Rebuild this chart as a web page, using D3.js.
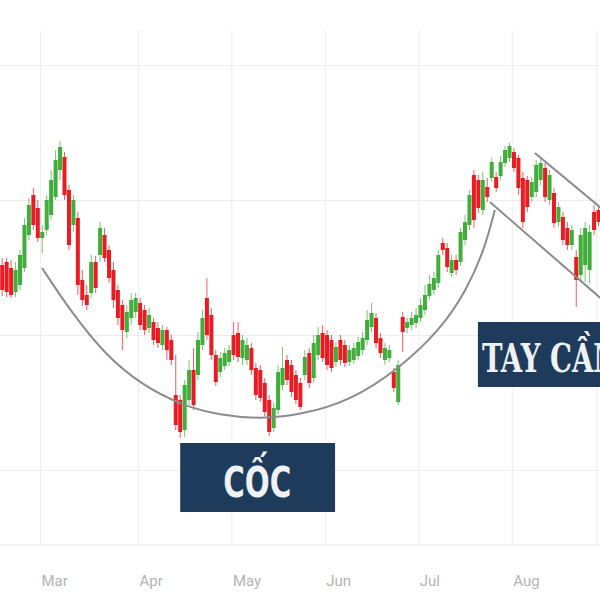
<!DOCTYPE html>
<html><head><meta charset="utf-8">
<script src="https://cdn.jsdelivr.net/npm/d3@7"></script>
<style>body{margin:0;background:#fff}svg{display:block}</style>
</head><body><svg id="c" width="600" height="600"></svg>
<script>
// Daily OHLC (trading-day index 0..134)
const openP = [33.5,33.8,33.2,30.8,31.5,33.2,36.5,40.5,39.2,36.2,
37.0,38.5,40.3,43.0,44.3,41.0,37.5,38.2,32.0,30.5,
30.7,33.8,34.5,36.5,35.0,33.0,31.0,29.5,26.8,28.2,
28.8,29.7,29.0,27.2,27.8,27.2,25.5,27.0,26.0,20.5,
20.0,17.0,20.0,23.0,22.5,25.5,30.2,28.5,24.5,22.8,
23.4,23.8,26.5,26.7,24.2,24.0,25.2,23.2,23.0,21.7,
20.0,17.2,19.0,21.5,24.0,23.5,22.5,21.7,22.5,24.7,
22.2,24.5,26.7,26.5,26.0,23.8,26.0,25.5,23.8,24.0,
24.4,25.0,26.0,27.3,28.2,26.2,24.0,24.2,22.8,19.8,
28.3,27.2,27.5,27.7,28.2,29.0,30.4,31.0,31.7,35.7,
35.2,32.7,34.0,33.8,36.0,37.5,42.5,42.0,39.0,41.3,
42.2,42.3,42.4,43.7,44.2,44.8,44.2,42.2,42.0,40.3,
40.8,42.0,43.2,40.0,40.7,37.8,38.3,37.2,35.5,34.3,
32.5,33.5,33.0,38.8,39.0];
const highP = [34.2,34.2,34.0,33.8,35.0,38.2,40.2,41.2,40.0,37.5,
40.5,43.0,45.0,45.9,44.8,41.5,40.5,38.8,33.0,31.5,
34.5,34.4,37.8,37.2,35.5,33.8,31.5,30.0,29.5,30.7,
30.7,30.2,29.5,29.2,28.2,27.8,27.5,27.3,26.5,24.5,
20.5,22.0,24.0,25.2,26.8,29.0,32.2,29.2,25.0,24.8,
25.2,25.5,27.8,27.8,26.5,26.2,25.7,23.7,23.5,22.2,
20.5,19.7,23.5,25.3,24.5,24.0,23.0,22.2,25.0,25.2,
26.5,27.3,27.5,27.0,26.5,25.8,26.5,26.0,25.5,25.7,
26.3,26.8,29.0,29.7,28.7,26.7,25.7,25.5,23.2,24.0,
28.8,28.2,28.8,29.2,30.2,31.5,32.5,32.8,35.0,36.2,
35.7,34.5,34.5,37.2,38.5,41.0,43.0,42.5,42.8,42.2,
44.2,42.8,44.4,45.4,45.7,45.2,44.5,42.8,42.4,42.3,
44.0,44.2,43.7,43.0,41.2,39.8,38.8,37.8,37.5,35.0,
37.2,37.8,37.5,39.5,39.5];
const lowP = [30.4,30.3,30.2,30.3,31.0,32.8,36.0,37.0,35.8,34.7,
36.5,38.0,40.0,42.0,40.0,35.0,36.8,30.5,29.4,29.0,
30.2,30.7,33.8,33.8,31.7,29.2,27.5,25.0,26.2,27.5,
28.2,27.0,26.5,26.7,25.5,25.2,25.0,24.0,23.5,17.0,
16.2,16.3,19.5,19.0,22.0,25.0,26.0,24.0,21.4,22.3,
23.0,23.4,24.0,23.8,23.5,23.5,22.5,20.0,19.8,18.4,
16.4,16.8,18.5,21.0,21.5,20.3,19.6,19.0,22.0,21.2,
21.7,24.0,23.8,23.0,22.8,23.3,23.5,23.3,23.4,23.6,
24.0,24.5,25.5,26.8,25.2,24.2,23.5,23.8,20.8,19.5,
24.8,26.7,27.0,27.2,27.8,28.5,30.0,30.5,31.2,34.5,
32.8,32.3,32.5,33.4,35.5,37.0,37.2,38.7,38.5,39.8,
41.8,40.8,42.0,43.3,43.8,42.8,40.5,37.2,38.8,39.8,
40.3,41.5,39.8,39.5,37.2,37.3,35.5,35.0,35.0,29.3,
31.8,31.8,31.7,36.5,37.4];
const closeP = [31.0,30.8,30.5,33.0,34.5,37.5,39.5,37.5,36.2,36.8,
40.0,42.0,44.0,45.3,40.5,35.5,40.0,31.5,30.0,29.5,
33.8,31.2,37.2,34.2,32.2,30.0,28.2,27.0,28.8,30.0,
30.2,27.5,27.0,28.5,26.0,25.7,27.0,25.0,24.0,17.5,
16.8,21.5,23.0,19.5,26.0,28.2,26.5,24.5,21.8,24.2,
24.7,25.0,24.5,24.3,26.0,25.5,23.0,20.5,20.2,18.8,
16.8,19.2,22.8,23.2,22.0,20.8,20.0,19.3,24.3,21.7,
25.7,26.5,24.2,23.5,23.2,25.3,24.0,23.7,25.0,25.2,
25.8,26.2,28.0,28.7,25.7,24.7,25.2,25.0,21.2,23.5,
26.8,27.8,28.2,28.5,29.5,30.5,31.6,32.2,34.5,35.0,
33.3,34.0,33.0,36.8,37.8,40.5,38.0,39.2,42.0,40.3,
43.8,41.2,43.8,45.0,45.4,43.2,41.2,37.8,39.3,41.8,
43.5,43.7,40.3,42.5,37.7,39.3,36.0,35.5,37.0,32.0,
36.5,37.2,36.8,37.0,37.8];

// Months: label and index of first trading day
const monthLabels = ["Mar","Apr","May","Jun","Jul","Aug",""];
const monthStart  = [9, 31, 52, 73, 94, 115, 134];
const priceTicks  = [13, 26.5, 40, 53.5];

// Cup curve (index, price)
const cupIdx   = [8.95,15.5,23.0,31.0,40.6,48.9,57.9,66.9,78.2,89.4,98.4,104.4,108.5,110.7];
const cupPrice = [33.2,28.8,24.6,21.6,19.4,18.5,18.1,18.5,19.9,23.2,27.0,31.0,35.2,39.0];
// Handle channel lines [idx0, price0, idx1, price1]
const channelUpper = [119.7, 44.7, 137, 38.3];
const channelLower = [109.6, 39.8, 137, 29.2];

// Annotations (data coords)
const labelCup    = {text:"CỐC",     i0:40,  i1:74.8, p0:15.7, p1:8.8};
const labelHandle = {text:"TAY CẦM", i0:106.9, i1:140, p0:27.8, p1:21.3};

const svg = d3.select("#c");
const W = 600, H = 600;
const x = d3.scaleLinear().domain([0,134]).range([2.2, 2.2+134*4.45]);
const y = d3.scaleLinear().domain([0,60]).range([600,0]);
const plotTop = 30, plotBottom = 545;

// horizontal gridlines
const gy = svg.append("g")
  .call(d3.axisRight(y).tickValues(priceTicks).tickSize(W).tickFormat(""));
gy.select(".domain").remove();
gy.selectAll("line").attr("stroke","#ededed");

// vertical gridlines + month labels
const gx = svg.append("g").attr("transform",`translate(0,${plotBottom})`)
  .call(d3.axisBottom(x).tickValues(monthStart.map(s=>s-0.5))
     .tickSize(-(plotBottom-plotTop)).tickFormat((d,i)=>monthLabels[i]));
gx.select(".domain").attr("stroke","#e8e8e8").attr("d",`M0,0H${W}`);
gx.selectAll("line").attr("stroke","#ededed");
gx.selectAll("text").attr("text-anchor","start").attr("dx","1").attr("y",30)
  .attr("fill","#b3b3b3").style("font-family","Roboto, 'Open Sans', sans-serif").style("font-size","15px");

// candles
const data = openP.map((o,i)=>({i,o,h:highP[i],l:lowP[i],c:closeP[i]}));
const up = "#3fae3a", dn = "#ea1b22";
const cg = svg.append("g");
cg.selectAll("line.w").data(data).join("line").attr("class","w")
  .attr("x1",d=>x(d.i)).attr("x2",d=>x(d.i))
  .attr("y1",d=>y(d.h)).attr("y2",d=>y(d.l))
  .attr("stroke",d=>d.c>=d.o?up:dn).attr("stroke-width",1).attr("opacity",0.7);
cg.selectAll("rect.b").data(data).join("rect").attr("class","b")
  .attr("x",d=>x(d.i)-2).attr("width",4)
  .attr("y",d=>y(Math.max(d.o,d.c)))
  .attr("height",d=>Math.max(1.5,Math.abs(y(d.o)-y(d.c))))
  .attr("fill",d=>d.c>=d.o?up:dn);

// cup curve
const cupPts = cupIdx.map((v,k)=>[v,cupPrice[k]]);
svg.append("path").datum(cupPts)
  .attr("d", d3.line().x(d=>x(d[0])).y(d=>y(d[1])).curve(d3.curveBasis))
  .attr("fill","none").attr("stroke","#8c8c8c").attr("stroke-width",2);

// channel
[channelUpper, channelLower].forEach(c=>{
  svg.append("line").attr("x1",x(c[0])).attr("y1",y(c[1])).attr("x2",x(c[2])).attr("y2",y(c[3]))
    .attr("stroke","#8c8c8c").attr("stroke-width",2);
});

// annotations
function box(lb, font, size, tl){
  const x0=x(lb.i0), x1=x(lb.i1), y0=y(lb.p0), y1=y(lb.p1);
  svg.append("rect").attr("x",x0).attr("y",y0).attr("width",x1-x0).attr("height",y1-y0).attr("fill","#1f3b5c");
  return svg.append("text").attr("fill","#eef2f6").style("font-family",font).style("font-weight","bold")
    .style("font-size",size+"px").text(lb.text).attr("textLength",tl).attr("lengthAdjust","spacingAndGlyphs");
}
box(labelCup, "'Liberation Sans Narrow','DejaVu Sans Condensed',sans-serif", 42, 68)
  .attr("x", x(labelCup.i0)+43).attr("y", y(labelCup.p1)-15);
box(labelHandle, "'DejaVu Serif Condensed','DejaVu Serif',serif", 40, 142)
  .attr("x", x(labelHandle.i0)+4).attr("y", y(labelHandle.p1)-15);
</script></body></html>
